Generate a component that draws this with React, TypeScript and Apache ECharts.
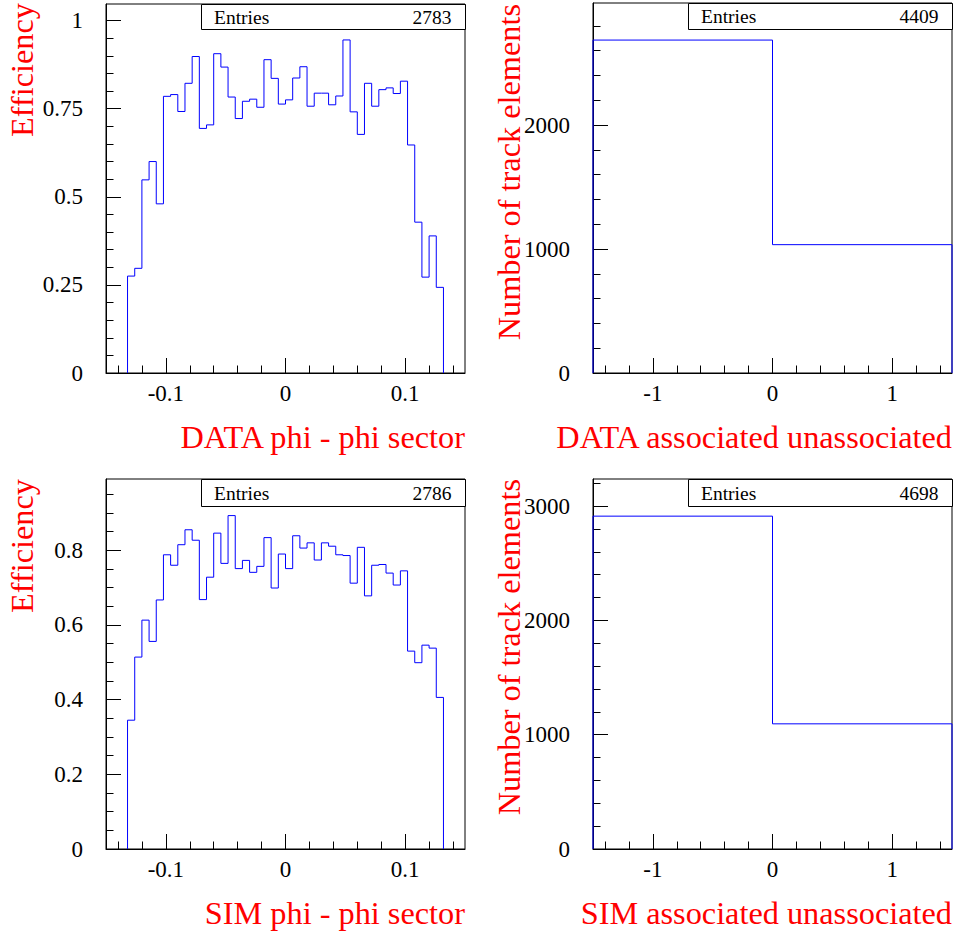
import React, { useEffect, useRef } from "react";
import * as echarts from "echarts";

const FONT = '"Liberation Serif", "Times New Roman", serif';

// phi - phi sector histograms: 44 bins of 0.006 starting at -0.132
const PHI_FIRST_EDGE = -0.132;
const PHI_BIN_WIDTH = 0.006;
const dataEfficiency = [
  0.275, 0.297, 0.548, 0.6, 0.48, 0.785, 0.79, 0.742, 0.822, 0.898, 0.694,
  0.704, 0.906, 0.868, 0.783, 0.722, 0.771, 0.777, 0.754, 0.889, 0.836, 0.763,
  0.775, 0.837, 0.869, 0.757, 0.794, 0.794, 0.761, 0.786, 0.945, 0.741, 0.677,
  0.822, 0.757, 0.804, 0.809, 0.793, 0.828, 0.647, 0.428, 0.272, 0.389, 0.243,
];
const simEfficiency = [
  0.345, 0.514, 0.613, 0.556, 0.667, 0.788, 0.76, 0.815, 0.855, 0.827, 0.668,
  0.728, 0.846, 0.765, 0.893, 0.751, 0.773, 0.741, 0.757, 0.834, 0.699, 0.79,
  0.751, 0.839, 0.806, 0.82, 0.774, 0.82, 0.811, 0.788, 0.786, 0.712, 0.808,
  0.678, 0.76, 0.762, 0.739, 0.707, 0.745, 0.53, 0.499, 0.546, 0.538, 0.406,
];

// associated / unassociated histograms: 2 bins
const assocEdges = [-1.5, 0, 1.5];
const dataAssociated = [2685, 1035];
const simAssociated = [2912, 1095];

const entries = [2783, 4409, 2786, 4698];
const xTitles = [
  "DATA phi - phi sector",
  "DATA associated unassociated",
  "SIM phi - phi sector",
  "SIM associated unassociated",
];
const yTitles = ["Efficiency", "Number of track elements", "Efficiency", "Number of track elements"];

// tick labels
const phiTicks = [-0.1, 0, 0.1];
const assocTicks = [-1, 0, 1];
const effTicksData = [0, 0.25, 0.5, 0.75, 1];
const effTicksSim = [0, 0.2, 0.4, 0.6, 0.8];
const countTicksData = [0, 1000, 2000];
const countTicksSim = [0, 1000, 2000, 3000];

// axis ranges
const phiRange = [-0.15, 0.15];
const assocRange = [-1.5, 1.5];
const effMaxData = 1.047;
const effMaxSim = 0.991;
const countMaxData = 2984;
const countMaxSim = 3237;

function minorTicks(min: number, max: number, step: number, majors: number[]) {
  const out: number[] = [];
  const n0 = Math.ceil(min / step - 1e-9);
  const n1 = Math.floor(max / step + 1e-9);
  for (let i = n0; i <= n1; i++) {
    const v = Math.round(i * step * 1e9) / 1e9;
    if (!majors.some((m) => Math.abs(m - v) < 1e-9) && v > min + 1e-9 && v < max - 1e-9) out.push(v);
  }
  return out;
}

function stepPoints(edges: number[], values: number[]) {
  const pts: number[][] = [[edges[0], 0]];
  values.forEach((v, i) => {
    pts.push([edges[i], v]);
    pts.push([edges[i + 1], v]);
  });
  pts.push([edges[edges.length - 1], 0]);
  return pts;
}

const fmt = (v: number) => String(+Number(v).toFixed(6));

function axisPair(
  dim: "x" | "y",
  gridIndex: number,
  min: number,
  max: number,
  majors: number[],
  minors: number[],
  margin: number
) {
  const common: any = {
    type: "value",
    gridIndex,
    min,
    max,
    position: dim === "x" ? "bottom" : "left",
    splitLine: { show: false },
    splitArea: { show: false },
    minorTick: { show: false },
    minorSplitLine: { show: false },
  };
  return [
    {
      ...common,
      axisLine: { show: true, onZero: false, lineStyle: { color: "#000", width: 1 } },
      axisTick: {
        show: true,
        inside: true,
        length: 15,
        customValues: majors,
        lineStyle: { color: "#000", width: 1 },
      },
      axisLabel: {
        show: true,
        customValues: majors,
        margin,
        formatter: fmt,
        fontFamily: FONT,
        fontSize: 23,
        color: "#000",
      },
    },
    {
      ...common,
      axisLine: { show: false, onZero: false },
      axisTick: {
        show: true,
        inside: true,
        length: 7.5,
        customValues: minors,
        lineStyle: { color: "#000", width: 1 },
      },
      axisLabel: { show: false },
    },
  ];
}

export default function App() {
  const ref = useRef<HTMLDivElement>(null);

  useEffect(() => {
    if (!ref.current) return;
    const chart = echarts.init(ref.current, undefined, { renderer: "svg" });

    const phiEdges: number[] = [];
    for (let i = 0; i <= dataEfficiency.length; i++) {
      phiEdges.push(Math.round((PHI_FIRST_EDGE + i * PHI_BIN_WIDTH) * 1e9) / 1e9);
    }

    const grids = [
      { left: 106, top: 4, width: 359, height: 369 },
      { left: 593, top: 3, width: 359, height: 370 },
      { left: 106, top: 479, width: 359, height: 370 },
      { left: 593, top: 479, width: 359, height: 370 },
    ];

    const panels = [
      {
        xr: phiRange, xt: phiTicks, xm: minorTicks(phiRange[0], phiRange[1], 0.02, phiTicks),
        ymax: effMaxData, yt: effTicksData, ym: minorTicks(0, effMaxData, 0.05, effTicksData),
        pts: stepPoints(phiEdges, dataEfficiency),
      },
      {
        xr: assocRange, xt: assocTicks, xm: minorTicks(assocRange[0], assocRange[1], 0.2, assocTicks),
        ymax: countMaxData, yt: countTicksData, ym: minorTicks(0, countMaxData, 200, countTicksData),
        pts: stepPoints(assocEdges, dataAssociated),
      },
      {
        xr: phiRange, xt: phiTicks, xm: minorTicks(phiRange[0], phiRange[1], 0.02, phiTicks),
        ymax: effMaxSim, yt: effTicksSim, ym: minorTicks(0, effMaxSim, 0.05, effTicksSim),
        pts: stepPoints(phiEdges, simEfficiency),
      },
      {
        xr: assocRange, xt: assocTicks, xm: minorTicks(assocRange[0], assocRange[1], 0.2, assocTicks),
        ymax: countMaxSim, yt: countTicksSim, ym: minorTicks(0, countMaxSim, 200, countTicksSim),
        pts: stepPoints(assocEdges, simAssociated),
      },
    ];

    const xAxis: any[] = [];
    const yAxis: any[] = [];
    const series: any[] = [];
    panels.forEach((p, g) => {
      xAxis.push(...axisPair("x", g, p.xr[0], p.xr[1], p.xt, p.xm, 9));
      yAxis.push(...axisPair("y", g, 0, p.ymax, p.yt, p.ym, 23));
      series.push({
        type: "line",
        xAxisIndex: 2 * g,
        yAxisIndex: 2 * g,
        data: p.pts,
        symbol: "none",
        showSymbol: false,
        clip: false,
        lineStyle: { color: "#0000ff", width: 1 },
        z: 3,
      });
    });

    const graphic: any[] = [];
    const boxes = [
      { x: 201.5, y: 4.5, w: 264, h: 25 },
      { x: 688.5, y: 3.5, w: 264, h: 26 },
      { x: 201.5, y: 479.5, w: 264, h: 27 },
      { x: 688.5, y: 479.5, w: 264, h: 27 },
    ];
    const xTitlePos = [
      { x: 465, y: 437 },
      { x: 952, y: 437 },
      { x: 465, y: 913 },
      { x: 952, y: 913 },
    ];
    const yTitlePos = [
      { x: 22, y: 3 },
      { x: 509, y: 4 },
      { x: 22, y: 479 },
      { x: 509, y: 479 },
    ];
    boxes.forEach((b, i) => {
      graphic.push({
        type: "rect",
        z: 10,
        shape: { x: b.x, y: b.y, width: b.w, height: b.h },
        style: { fill: "#fff", stroke: "#000", lineWidth: 1 },
      });
      graphic.push({
        type: "text",
        z: 11,
        x: b.x + 12.5,
        y: b.y + b.h / 2,
        style: {
          text: "Entries",
          fill: "#000",
          fontFamily: FONT,
          fontSize: 19.5,
          align: "left",
          textAlign: "left",
          verticalAlign: "middle",
          textVerticalAlign: "middle",
        },
      });
      graphic.push({
        type: "text",
        z: 11,
        x: b.x + b.w - 14,
        y: b.y + b.h / 2,
        style: {
          text: String(entries[i]),
          fill: "#000",
          fontFamily: FONT,
          fontSize: 19.5,
          align: "right",
          textAlign: "right",
          verticalAlign: "middle",
          textVerticalAlign: "middle",
        },
      });
      graphic.push({
        type: "text",
        z: 11,
        x: xTitlePos[i].x,
        y: xTitlePos[i].y,
        style: {
          text: xTitles[i],
          fill: "#ff0000",
          fontFamily: FONT,
          fontSize: 32.3,
          align: "right",
          textAlign: "right",
          verticalAlign: "middle",
          textVerticalAlign: "middle",
        },
      });
      graphic.push({
        type: "text",
        z: 11,
        x: yTitlePos[i].x,
        y: yTitlePos[i].y,
        rotation: Math.PI / 2,
        style: {
          text: yTitles[i],
          fill: "#ff0000",
          fontFamily: FONT,
          fontSize: 32.3,
          align: "right",
          textAlign: "right",
          verticalAlign: "middle",
          textVerticalAlign: "middle",
        },
      });
    });

    chart.setOption({
      animation: false,
      backgroundColor: "#fff",
      grid: grids.map((g) => ({
        ...g,
        show: true,
        borderColor: "#000",
        borderWidth: 1,
        backgroundColor: "transparent",
        containLabel: false,
      })),
      xAxis,
      yAxis,
      series,
      graphic,
    });

    return () => chart.dispose();
  }, []);

  return (
    <div
      ref={ref}
      style={{ position: "absolute", left: 0, top: 0, width: 958, height: 934, background: "#fff" }}
    />
  );
}
